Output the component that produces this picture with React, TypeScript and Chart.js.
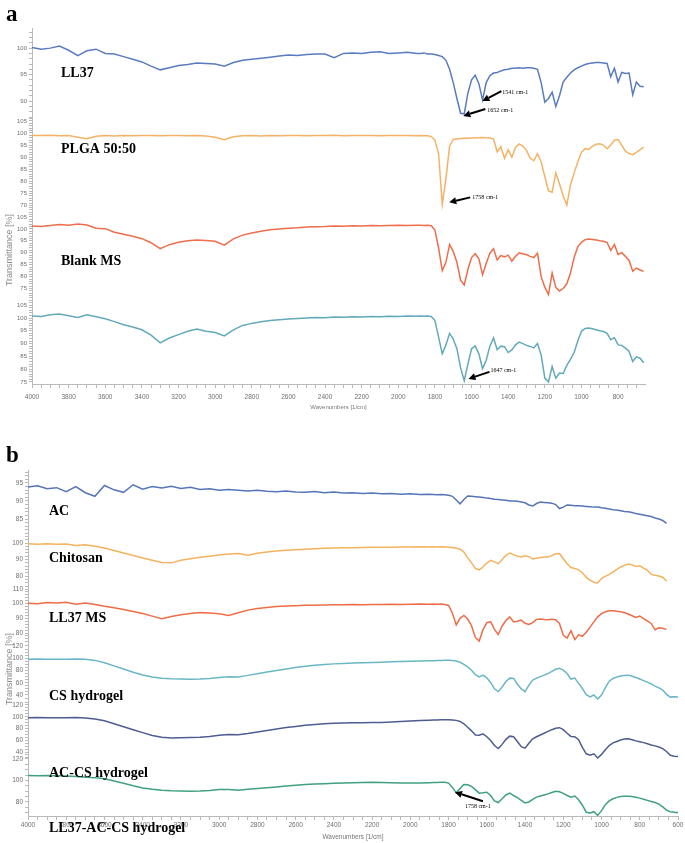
import React, { useEffect, useRef } from 'react';
import { Chart, registerables } from 'chart.js';

Chart.register(...registerables);

// ---------------- Panel a data ----------------
const wavenumbersA = [
  4000, 3950, 3900, 3850, 3800, 3750, 3700, 3650, 3600, 3550,
  3500, 3450, 3400, 3350, 3300, 3250, 3200, 3150, 3100, 3050,
  3000, 2950, 2900, 2850, 2800, 2750, 2700, 2650, 2600, 2550,
  2500, 2450, 2400, 2350, 2300, 2250, 2200, 2150, 2100, 2050,
  2000, 1950, 1900,
  1880, 1860, 1840, 1820, 1800, 1780, 1760, 1740, 1720, 1700,
  1680, 1660, 1640, 1620, 1600, 1580, 1560, 1540, 1520, 1500,
  1480, 1460, 1440, 1420, 1400, 1380, 1360, 1340, 1320, 1300,
  1280, 1260, 1240, 1220, 1200, 1180, 1160, 1140, 1120, 1100,
  1080, 1060, 1040, 1020, 1000, 980, 960, 940, 920, 900,
  880, 860, 840, 820, 800, 780, 760, 740, 720, 700,
  680, 660,
];

const seriesLL37 = [
  100.1, 99.8, 100.0, 100.4, 99.6, 98.6, 99.5, 99.8, 99.0, 98.9,
  98.4, 97.9, 97.4, 96.6, 95.9, 96.3, 96.7, 96.9, 97.2, 97.1,
  97.0, 96.6, 97.3, 97.7, 97.9, 98.1, 98.3, 98.5, 98.7, 98.6,
  98.8, 98.9, 98.9, 98.2, 99.0, 99.1, 99.0, 99.2, 99.3, 99.0,
  99.1, 99.2, 99.0,
  99.0, 99.1, 98.9, 98.9, 98.8, 98.6, 98.4, 97.7, 96.0, 93.5,
  90.5, 87.7, 87.6, 91.5, 94.0, 94.9, 93.3, 90.2, 93.5, 94.8,
  95.3, 95.4, 95.7, 95.9, 96.0, 96.2, 96.2, 96.3, 96.2, 96.3,
  96.3, 96.2, 96.0, 93.5, 89.8, 90.5, 91.7, 89.0, 91.0, 93.6,
  94.5, 95.3, 95.9, 96.3, 96.6, 96.9, 97.1, 97.2, 97.3, 97.3,
  97.2, 97.1, 94.6, 96.2, 93.6, 95.4, 95.2, 95.3, 91.2, 93.6,
  92.8, 92.7,
];

const seriesPLGA = [
  99.0, 98.9, 99.1, 98.8, 98.9, 98.2, 97.6, 98.6, 98.9, 98.7,
  98.9, 98.8, 98.9, 99.0, 98.8, 98.9, 99.0, 98.8, 98.9, 98.7,
  98.2, 97.2, 98.4, 98.8, 98.9, 98.7, 98.9, 98.8, 99.0, 98.9,
  98.8, 99.0, 98.9, 99.1, 98.8, 98.9, 99.0, 98.9, 98.8, 99.0,
  98.9, 98.9, 98.8,
  98.9, 98.8, 98.8, 98.5, 97.0, 91.5, 70.5, 81.0, 94.5, 97.3,
  97.5, 97.7, 97.8, 97.8, 97.9, 98.0, 98.0, 98.1, 98.0, 97.9,
  97.5, 92.2, 94.3, 89.5, 93.0, 90.0, 94.0, 95.5, 94.6, 92.8,
  89.5, 88.5, 91.4, 88.0, 82.0, 76.0, 75.5, 83.5, 79.0, 74.0,
  70.2, 78.5, 83.5, 88.0, 92.0, 93.5, 93.2, 94.5, 95.3, 95.5,
  95.0, 93.5, 95.0, 97.0, 97.3, 95.0, 92.5, 91.5, 91.0, 92.0,
  93.0, 94.2,
];

const seriesBlankMS = [
  101.2, 101.0, 101.4, 101.8, 101.5, 102.1, 101.6, 100.3, 100.1, 98.6,
  97.8, 96.9, 95.9, 94.2, 91.7, 93.4, 94.4, 95.0, 95.4, 95.1,
  94.8, 93.2, 95.8, 97.4, 98.3, 99.0, 99.6, 100.0, 100.3, 100.5,
  100.8, 100.9, 101.0, 101.2, 101.1, 101.3, 101.2, 101.4, 101.3, 101.4,
  101.5, 101.4, 101.5,
  101.5, 101.4, 101.5, 101.3, 99.5, 92.0, 82.5, 86.0, 93.5, 90.5,
  86.0, 78.5, 76.5, 83.0, 88.0, 89.6, 87.5, 80.8, 85.5, 89.8,
  91.7, 87.0, 88.8, 88.3, 89.0, 86.5, 88.5, 90.0, 89.6, 89.2,
  88.5, 88.0, 89.8, 80.0, 75.6, 72.5, 81.5, 75.5, 74.0, 75.0,
  77.0, 81.5, 88.0, 92.5, 94.4, 95.5, 95.8, 95.6, 95.4, 95.0,
  94.8, 94.3, 91.0, 93.5, 89.3, 90.0, 88.5, 86.8, 82.3, 83.6,
  82.8, 82.2,
];

const seriesLL37MSa = [
  100.8, 100.6, 101.3, 101.6, 100.9, 100.2, 101.3, 100.5, 99.7, 98.6,
  97.4, 96.5, 95.4, 93.3, 90.3, 92.2, 93.5, 94.8, 95.7, 94.8,
  94.3, 93.0, 95.4, 97.1, 97.9, 98.5, 99.0, 99.3, 99.6, 99.8,
  100.0, 100.2, 100.1, 100.4, 100.3, 100.5, 100.4, 100.6, 100.5, 100.7,
  100.6, 100.8, 100.7,
  100.8, 100.7, 100.8, 100.6, 99.0, 92.5, 86.0, 89.5, 94.0, 91.8,
  88.0, 80.5, 75.5, 82.0, 88.0, 89.1, 86.0, 80.2, 83.5, 89.0,
  92.2, 87.6, 89.0, 88.8, 86.5, 87.5, 89.5, 90.6, 90.0, 89.3,
  88.9, 88.3, 90.0, 85.5, 76.5, 75.0, 81.0, 76.5, 78.5, 78.3,
  81.5, 83.8, 86.5, 91.0, 94.8, 95.9, 96.1, 95.8, 95.4, 95.0,
  94.7, 94.0, 91.5, 92.3, 89.5, 89.3, 88.2, 87.0, 83.0, 84.8,
  84.3, 82.5,
];

const seriesNamesA = ['LL37', 'PLGA 50:50', 'Blank MS', ''];
const peakLabelsA = ['1541 cm-1', '1652 cm-1', '1758 cm-1', '1647 cm-1'];
const peakWavenumbersA = [1541, 1645, 1722, 1617];
const peakValuesA = [90.0, 87.2, 71.3, 76.2];

// ---------------- Panel b data ----------------
const wavenumbersB = [
  4000, 3950, 3900, 3850, 3800, 3750, 3700, 3650, 3600, 3550,
  3500, 3450, 3400, 3350, 3300, 3250, 3200, 3150, 3100, 3050,
  3000, 2950, 2900, 2850, 2800, 2750, 2700, 2650, 2600, 2550,
  2500, 2450, 2400, 2350, 2300, 2250, 2200, 2150, 2100, 2050,
  2000, 1950, 1900,
  1880, 1860, 1840, 1820, 1800, 1780, 1760, 1740, 1720, 1700,
  1680, 1660, 1640, 1620, 1600, 1580, 1560, 1540, 1520, 1500,
  1480, 1460, 1440, 1420, 1400, 1380, 1360, 1340, 1320, 1300,
  1280, 1260, 1240, 1220, 1200, 1180, 1160, 1140, 1120, 1100,
  1080, 1060, 1040, 1020, 1000, 980, 960, 940, 920, 900,
  880, 860, 840, 820, 800, 780, 760, 740, 720, 700,
  680, 660, 640, 620, 600,
];

const seriesAC = [
  93.9, 94.2, 93.4, 93.7, 92.6, 94.0, 92.3, 91.3, 94.3, 93.1,
  92.4, 94.5, 93.3, 94.0, 93.6, 94.1, 93.5, 93.8, 93.2, 93.4,
  93.0, 93.2, 93.0, 92.8, 93.0, 92.7, 92.6, 92.8, 92.5, 92.4,
  92.6, 92.3, 92.5, 92.2, 92.3, 92.1, 92.2, 92.0, 92.1, 91.9,
  92.0, 91.8, 91.9,
  91.8, 91.7, 91.8, 91.7, 91.6, 91.3, 90.3, 89.2, 90.4, 91.4,
  91.3, 91.2, 91.1, 91.0, 90.8, 90.7, 90.5, 90.4, 90.3, 90.2,
  90.0, 90.0, 89.9, 89.7, 89.5, 88.9, 88.6, 89.3, 89.7, 89.6,
  89.5, 89.4, 89.0, 87.9, 88.3, 88.9, 88.8, 88.7, 88.7, 88.6,
  88.5, 88.4, 88.3, 88.3, 88.1, 88.0, 87.8, 87.6, 87.5, 87.3,
  87.1, 87.0, 86.8, 86.5, 86.3, 86.1, 85.9, 85.7, 85.3, 85.0,
  84.6, 83.8, null, null, null,
];

const seriesChitosan = [
  99.5, 99.2, 99.5, 99.3, 99.4, 98.5, 99.0, 98.1, 97.0, 95.5,
  94.0, 92.4, 91.0, 89.6, 88.2, 88.0, 89.6, 90.5, 91.4, 92.0,
  92.7, 93.3, 93.6, 92.6, 93.8, 94.6, 95.2, 95.6, 96.0, 96.3,
  96.6, 96.8, 97.0, 97.1, 97.2, 97.3, 97.4, 97.5, 97.5, 97.6,
  97.6, 97.7, 97.6,
  97.7, 97.6, 97.7, 97.6, 97.5, 97.3, 96.8, 96.3, 94.5, 91.0,
  88.0, 84.6, 83.8, 85.5, 87.9, 89.5, 88.6, 87.5, 90.0, 92.5,
  93.9, 93.0, 92.0, 91.5, 92.3, 91.8, 90.3, 90.8, 91.3, 91.5,
  91.6, 92.4, 93.5, 93.6, 90.5, 87.5, 85.2, 84.6, 83.8, 82.0,
  79.2, 77.5, 76.3, 75.8, 78.5, 79.8, 81.0, 82.4, 84.0, 85.5,
  86.5, 87.3, 86.8, 85.8, 86.2, 84.8, 83.5, 81.0, 80.5, 80.0,
  79.3, 77.0, null, null, null,
];

const seriesLL37MS = [
  100.3, 100.0, 100.8, 100.5, 100.9, 99.6, 100.4, 99.5, 98.3, 97.2,
  96.0, 94.6, 93.3, 91.5, 89.8, 91.3, 92.5, 93.3, 93.9, 93.6,
  93.2, 91.9, 93.8, 95.6, 96.7, 97.4, 98.0, 98.4, 98.6, 98.9,
  99.0, 99.1, 99.3, 99.2, 99.4, 99.3, 99.5, 99.4, 99.6, 99.5,
  99.6, 99.7, 99.6,
  99.7, 99.6, 99.7, 99.5, 98.8, 93.5, 85.5, 90.0, 92.0, 89.5,
  85.0, 77.0, 74.5, 82.3, 87.0, 87.8, 82.5, 79.0, 84.8, 88.5,
  91.0, 87.5, 88.0, 88.8, 86.6, 85.8, 87.1, 89.3, 89.6, 89.2,
  89.0, 89.3, 89.1, 86.5, 78.5, 76.5, 81.5, 75.5, 78.8, 77.8,
  80.5, 84.0, 87.6, 91.0, 93.2, 94.5, 95.1, 95.2, 94.8, 94.5,
  93.8, 93.0, 91.8, 90.6, 91.5, 89.8, 88.2, 86.5, 82.2, 83.5,
  83.3, 82.5, null, null, null,
];

const seriesCSHydrogel = [
  98.4, 98.6, 98.2, 98.5, 98.3, 98.6, 98.2, 96.5, 92.5, 87.5,
  82.5, 77.0, 72.5, 69.5, 67.5, 66.5, 66.0, 65.8, 66.0, 67.0,
  68.5, 69.8, 69.4, 72.0, 74.8, 77.5, 80.0, 82.5, 85.0, 87.0,
  88.5, 89.8, 90.8, 91.6, 92.2, 92.8, 93.2, 93.6, 94.1, 94.6,
  95.0, 95.5, 95.9,
  96.1, 96.3, 96.5, 96.6, 96.7, 96.4, 95.5, 93.5, 90.0, 86.0,
  80.5, 73.0, 69.5, 72.4, 68.0, 60.5, 50.0, 45.5, 53.0, 62.0,
  67.5, 67.0, 57.5, 50.0, 45.5, 56.0, 64.5, 67.5, 70.0, 72.5,
  75.0, 78.5, 82.0, 83.7, 80.5, 75.0, 66.0, 67.5, 59.0, 50.5,
  40.5, 37.0, 40.0, 33.5, 40.0, 52.0, 62.5, 67.0, 69.5, 71.0,
  72.0, 72.4, 70.5, 68.5, 66.0, 63.5, 61.0, 58.0, 54.5, 51.5,
  48.0, 41.0, 36.5, 37.0, 36.8,
];

const seriesACCSHydrogel = [
  98.3, 98.6, 98.1, 98.4, 98.2, 98.5, 98.0, 96.0, 93.0, 88.0,
  83.0, 78.0, 73.0, 68.0, 65.0, 64.0, 64.2, 64.5, 65.0, 66.5,
  68.5, 69.8, 69.5, 71.5, 74.0, 76.5, 79.0, 81.5, 83.5, 85.5,
  87.0, 88.0, 88.8, 89.3, 89.6, 89.9, 90.0, 90.2, 91.0, 92.0,
  92.8, 93.5, 94.0,
  94.3, 94.5, 94.7, 94.8, 94.9, 94.6, 93.8, 92.0, 88.0, 82.0,
  76.0, 69.0, 68.5, 71.0, 66.0, 59.5, 51.0, 46.0, 53.0, 61.5,
  67.0, 66.0, 58.0, 49.0, 46.5, 55.0, 62.5, 66.0, 69.0, 72.0,
  75.0, 78.0, 80.5, 81.4, 78.0, 72.0, 66.5, 66.0, 61.0, 48.0,
  37.0, 34.5, 37.0, 29.8, 36.0, 44.0, 51.0, 55.5, 58.0, 60.5,
  62.0, 62.5, 61.0, 59.0, 57.5, 56.0, 54.0, 52.0, 50.5, 48.5,
  45.8, 41.0, 34.5, 33.0, 32.5,
];

const seriesLL37ACCSHydrogel = [
  104.5, 104.3, 104.6, 104.4, 104.0, 103.6, 103.0, 102.6, 101.6, 99.5,
  97.3, 95.0, 93.0, 91.8, 91.0, 90.5, 90.2, 90.0, 90.1, 90.6,
  91.5, 91.6, 91.0, 91.8, 92.5, 93.2, 94.0, 94.8, 95.5, 96.2,
  96.6, 97.0, 97.3, 97.6, 97.8, 98.0, 98.2, 98.0, 97.8, 97.6,
  97.5, 97.7, 97.9,
  98.0, 98.1, 98.2, 98.2, 97.5, 93.5, 88.5, 92.5, 96.2, 96.0,
  94.5, 91.5, 88.2, 88.5, 89.0, 86.0, 81.0, 79.5, 83.0, 86.5,
  88.2, 86.0, 84.0, 81.5, 79.1, 80.0, 82.5, 84.5, 85.5, 86.5,
  87.5, 88.8, 90.0, 89.5, 88.0, 86.0, 84.5, 85.5, 82.0, 77.0,
  70.5, 69.8, 71.0, 67.5, 72.0, 77.5, 81.0, 83.0, 84.3, 85.0,
  85.3, 85.4, 85.0, 84.3, 83.6, 82.5, 81.5, 80.5, 79.5, 78.0,
  75.5, 72.5, 71.0, 70.5, 70.0,
];

const seriesNamesB = ['AC', 'Chitosan', 'LL37 MS', 'CS hydrogel', 'AC-CS hydrogel', 'LL37-AC-CS hydrogel'];
const peakLabelsB = ['1758 cm-1'];
const peakWavenumbersB = [1767];
const peakValuesB = [89.1];

// ---------------- Chart building ----------------
type SubPlot = { values: (number | null)[]; color: string; min: number; max: number; major: number; minor: number };
type ArrowStyle = { axis: number; dx: number; dy: number; tx: number; ty: number };
type PanelDef = {
  letter: string;
  wn: number[];
  xMin: number;
  subs: SubPlot[];
  names: string[];
  namePos: { x: number; y: number }[];
  peakLabels: string[];
  peakX: number[];
  peakY: number[];
  arrows: ArrowStyle[];
  padTop: number;
  padRight: number;
  padBottom: number;
  yAxisW: number;
  xAxisH: number;
  xTickPad: number;
  yFont: number;
  xFont: number;
  xTitleFont: number;
  letterY: number;
  yTitleY: number;
  xTitleY: number;
};

function tickList(min: number, max: number, step: number): number[] {
  const out: number[] = [];
  const start = Math.ceil(min / step - 1e-9) * step;
  for (let v = start; v <= max + 1e-9; v += step) out.push(Math.round(v * 1000) / 1000);
  return out;
}
const isMultiple = (v: number, m: number) => Math.abs(v / m - Math.round(v / m)) < 1e-6;

const AXIS_COLOR = '#b9b9b9';
const TICK_TEXT = '#6f6f6f';

function makeDecor(p: PanelDef) {
  return {
    id: 'decor_' + p.letter,
    afterDraw(chart: any) {
      const ctx = chart.ctx as CanvasRenderingContext2D;
      const area = chart.chartArea;
      ctx.save();
      // y title
      ctx.save();
      ctx.translate(10, p.yTitleY);
      ctx.rotate(-Math.PI / 2);
      ctx.fillStyle = '#8c8c8c';
      ctx.font = '9px "Liberation Sans", sans-serif';
      ctx.textAlign = 'center';
      ctx.textBaseline = 'middle';
      ctx.fillText('Transmittance [%]', 0, 0);
      ctx.restore();
      // x title
      ctx.fillStyle = '#777';
      ctx.font = `${p.xTitleFont}px "Liberation Sans", sans-serif`;
      ctx.textAlign = 'center';
      ctx.textBaseline = 'middle';
      ctx.fillText('Wavenumbers [1/cm]', (area.left + area.right) / 2, p.xTitleY);
      // arrows
      const xs = chart.scales.x;
      p.arrows.forEach((a, i) => {
        const ys = chart.scales['y' + a.axis];
        const tx = xs.getPixelForValue(p.peakX[i]);
        const ty = ys.getPixelForValue(p.peakY[i]);
        const fx = tx + a.dx;
        const fy = ty + a.dy;
        const ang = Math.atan2(ty - fy, tx - fx);
        const hl = 7;
        const hw = 3.6;
        const bx = tx - hl * Math.cos(ang);
        const by = ty - hl * Math.sin(ang);
        ctx.strokeStyle = '#000';
        ctx.fillStyle = '#000';
        ctx.lineWidth = 2;
        ctx.beginPath();
        ctx.moveTo(fx, fy);
        ctx.lineTo(bx, by);
        ctx.stroke();
        ctx.beginPath();
        ctx.moveTo(tx, ty);
        ctx.lineTo(bx + hw * Math.sin(ang), by - hw * Math.cos(ang));
        ctx.lineTo(bx - hw * Math.sin(ang), by + hw * Math.cos(ang));
        ctx.closePath();
        ctx.fill();
        ctx.font = '6px "Liberation Serif", serif';
        ctx.textAlign = 'left';
        ctx.textBaseline = 'middle';
        ctx.fillText(p.peakLabels[i], tx + a.tx, ty + a.ty);
      });
      // panel letter
      ctx.fillStyle = '#000';
      ctx.textAlign = 'left';
      ctx.textBaseline = 'alphabetic';
      ctx.font = 'bold 23px "Liberation Serif", serif';
      ctx.fillText(p.letter, 6, p.letterY);
      // series names
      ctx.font = 'bold 14px "Liberation Serif", serif';
      p.names.forEach((name, i) => {
        if (!name) return;
        const pos = p.namePos[i];
        ctx.fillText(name, pos.x, pos.y);
      });
      ctx.restore();
    },
  };
}

function buildChart(canvas: HTMLCanvasElement, p: PanelDef) {
  const n = p.subs.length;
  const scales: any = {
    x: {
      type: 'linear',
      reverse: true,
      min: p.xMin,
      max: 4000,
      afterBuildTicks: (sc: any) => {
        sc.ticks = tickList(p.xMin, 4000, 50).map((v) => ({ value: v }));
      },
      afterFit: (sc: any) => {
        sc.height = p.xAxisH;
      },
      ticks: {
        autoSkip: false,
        maxRotation: 0,
        minRotation: 0,
        padding: p.xTickPad,
        color: TICK_TEXT,
        font: { family: 'Liberation Sans', size: p.xFont },
        callback: (v: number) => (isMultiple(v, 200) ? String(v) : ''),
      },
      grid: { drawOnChartArea: false, drawTicks: true, tickLength: 4, color: AXIS_COLOR },
      border: { color: AXIS_COLOR },
    },
  };
  p.subs.forEach((s, i) => {
    scales['y' + i] = {
      type: 'linear',
      position: 'left',
      stack: 'spectra',
      stackWeight: 1,
      weight: n - i,
      min: s.min,
      max: s.max,
      afterBuildTicks: (sc: any) => {
        sc.ticks = tickList(s.min, s.max, s.minor).map((v) => ({ value: v }));
      },
      afterFit: (sc: any) => {
        sc.width = p.yAxisW;
      },
      ticks: {
        autoSkip: false,
        padding: 2,
        color: TICK_TEXT,
        font: { family: 'Liberation Sans', size: p.yFont },
        callback: (v: number) => (isMultiple(v, s.major) ? String(v) : ''),
      },
      grid: { drawOnChartArea: false, drawTicks: true, tickLength: 3, color: AXIS_COLOR },
      border: { color: AXIS_COLOR },
    };
  });
  const datasets = p.subs.map((s, i) => ({
    label: p.names[i] || 'series ' + (i + 1),
    data: p.wn.map((w, j) => ({ x: w, y: s.values[j] })),
    yAxisID: 'y' + i,
    borderColor: s.color,
    backgroundColor: s.color,
    borderWidth: 1.5,
    pointRadius: 0,
    tension: 0,
    fill: false,
    clip: false as any,
  }));
  return new Chart(canvas, {
    type: 'line',
    data: { datasets },
    options: {
      responsive: false,
      maintainAspectRatio: false,
      animation: false,
      devicePixelRatio: 1,
      layout: { padding: { top: p.padTop, right: p.padRight, bottom: p.padBottom, left: 0 } },
      plugins: { legend: { display: false }, tooltip: { enabled: false } },
      scales,
    },
    plugins: [makeDecor(p)],
  } as any);
}

const panelA: PanelDef = {
  letter: 'a',
  wn: wavenumbersA,
  xMin: 653,
  subs: [
    { values: seriesLL37, color: '#5a7bbf', min: 87, max: 103.8, major: 5, minor: 1 },
    { values: seriesPLGA, color: '#f5b265', min: 69.8, max: 106.6, major: 5, minor: 1 },
    { values: seriesBlankMS, color: '#ee6d4b', min: 72.3, max: 109.6, major: 5, minor: 1 },
    { values: seriesLL37MSa, color: '#62a9ba', min: 74.2, max: 109, major: 5, minor: 1 },
  ],
  names: seriesNamesA,
  namePos: [{ x: 61, y: 77 }, { x: 61, y: 153 }, { x: 61, y: 265 }, { x: 61, y: 350 }],
  peakLabels: peakLabelsA,
  peakX: peakWavenumbersA,
  peakY: peakValuesA,
  arrows: [
    { axis: 0, dx: 19, dy: -10, tx: 20, ty: -9 },
    { axis: 0, dx: 22, dy: -7, tx: 24, ty: -6 },
    { axis: 1, dx: 21, dy: -5, tx: 23, ty: -5 },
    { axis: 3, dx: 21, dy: -7, tx: 22, ty: -8 },
  ],
  padTop: 28,
  padRight: 40,
  padBottom: 25,
  yAxisW: 32,
  xAxisH: 16,
  xTickPad: 5,
  yFont: 6,
  xFont: 6.5,
  xTitleFont: 6,
  letterY: 21,
  yTitleY: 250,
  xTitleY: 407,
};

const panelB: PanelDef = {
  letter: 'b',
  wn: wavenumbersB,
  xMin: 600,
  subs: [
    { values: seriesAC, color: '#5675b9', min: 82.6, max: 98.6, major: 5, minor: 1 },
    { values: seriesChitosan, color: '#f3b35e', min: 74.4, max: 109.3, major: 10, minor: 2 },
    { values: seriesLL37MS, color: '#ee6d47', min: 73.2, max: 112.5, major: 10, minor: 2 },
    { values: seriesCSHydrogel, color: '#69b7c5', min: 30.7, max: 124.9, major: 20, minor: 5 },
    { values: seriesACCSHydrogel, color: '#4e5c92', min: 29.3, max: 127.3, major: 20, minor: 5 },
    { values: seriesLL37ACCSHydrogel, color: '#40a07f', min: 67.0, max: 120.5, major: 20, minor: 5 },
  ],
  names: seriesNamesB,
  namePos: [
    { x: 49, y: 75 },
    { x: 49, y: 122 },
    { x: 49, y: 182 },
    { x: 49, y: 260 },
    { x: 49, y: 337 },
    { x: 49, y: 392 },
  ],
  peakLabels: peakLabelsB,
  peakX: peakWavenumbersB,
  peakY: peakValuesB,
  arrows: [{ axis: 5, dx: 28, dy: 9, tx: 10, ty: 14 }],
  padTop: 30,
  padRight: 7,
  padBottom: 13,
  yAxisW: 28,
  xAxisH: 14,
  xTickPad: 1,
  yFont: 6.5,
  xFont: 6.5,
  xTitleFont: 6.5,
  letterY: 22,
  yTitleY: 229,
  xTitleY: 397,
};

export default function App() {
  const refA = useRef<HTMLCanvasElement>(null);
  const refB = useRef<HTMLCanvasElement>(null);
  useEffect(() => {
    const a = buildChart(refA.current as HTMLCanvasElement, panelA);
    const b = buildChart(refB.current as HTMLCanvasElement, panelB);
    return () => {
      a.destroy();
      b.destroy();
    };
  }, []);
  return (
    <div style={{ position: 'absolute', left: 0, top: 0, width: 685, height: 843, background: '#fff' }}>
      <canvas ref={refA} width={685} height={425} style={{ position: 'absolute', left: 0, top: 0 }} />
      <canvas ref={refB} width={685} height={403} style={{ position: 'absolute', left: 0, top: 440 }} />
    </div>
  );
}
